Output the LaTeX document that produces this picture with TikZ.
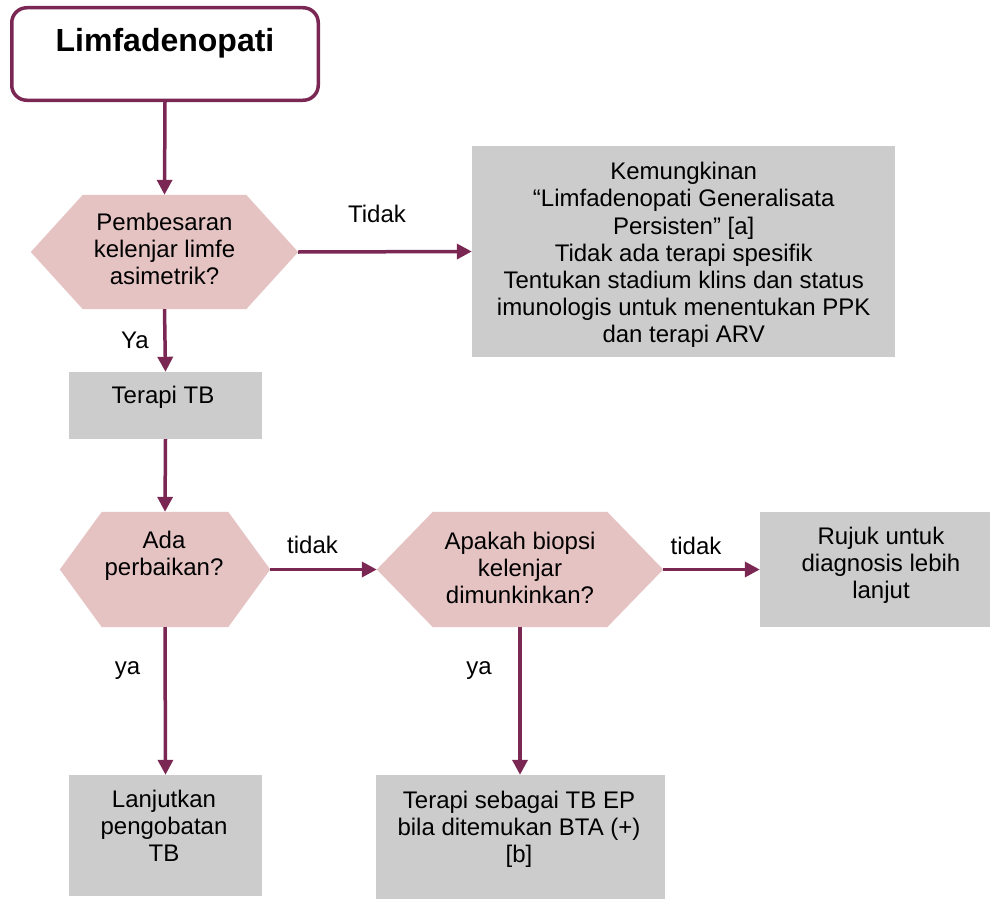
\documentclass[tikz,border=0pt]{standalone}
\usepackage{fontspec}
\setmainfont{Liberation Sans}
\usetikzlibrary{arrows.meta}
\definecolor{wine}{HTML}{7B2753}
\definecolor{rosefill}{HTML}{E6C3C3}
\definecolor{boxgrey}{HTML}{CCCCCC}
\tikzset{
  txt/.style={font=\fontsize{24}{27.2}\selectfont, align=center, inner sep=0pt},
  flow/.style={draw=wine, line width=3.5pt, -{Triangle[width=15pt,length=15pt]}},
  greybox/.style={fill=boxgrey, draw=none, inner sep=0pt},
  frame/.style={inner sep=0pt, draw=none},
  hexfill/.style={fill=rosefill, draw=none}
}
\begin{document}
\begin{tikzpicture}[x=1pt,y=-1pt]
\useasboundingbox (0,0) rectangle (990,899);

% start box
\node[draw=wine, line width=3.5pt, rounded corners=15pt, minimum width=306.5pt,
      minimum height=92.5pt, inner sep=0pt] (start) at (165,54) {};
\node[font=\bfseries\fontsize{32}{38}\selectfont, anchor=base, inner sep=0pt]
      (title) at (165,52) {Limfadenopati};

% decision frames
\node[frame, minimum width=267pt, minimum height=114pt] (q1) at (164.5,252) {};
\node[frame, minimum width=210pt, minimum height=115pt] (q2) at (165,569.5) {};
\node[frame, minimum width=286pt, minimum height=115pt] (q3) at (520,569.5) {};

\fill[hexfill] (q1.west) -- ([xshift=52pt]q1.north west) -- ([xshift=-52pt]q1.north east)
  -- (q1.east) -- ([xshift=-52pt]q1.south east) -- ([xshift=52pt]q1.south west) -- cycle;
\fill[hexfill] (q2.west) -- ([xshift=42pt]q2.north west) -- ([xshift=-42pt]q2.north east)
  -- (q2.east) -- ([xshift=-42pt]q2.south east) -- ([xshift=42pt]q2.south west) -- cycle;
\fill[hexfill] (q3.west) -- ([xshift=56pt]q3.north west) -- ([xshift=-56pt]q3.north east)
  -- (q3.east) -- ([xshift=-56pt]q3.south east) -- ([xshift=56pt]q3.south west) -- cycle;

% action boxes
\node[greybox, minimum width=423pt, minimum height=211pt] (pgl) at (683.5,251.5) {};
\node[greybox, minimum width=193pt, minimum height=67pt] (tb) at (165.5,405.5) {};
\node[greybox, minimum width=242pt, minimum height=115pt] (rujuk) at (881,569.5) {};
\node[greybox, minimum width=193pt, minimum height=121pt] (lanjut) at (165.5,835.5) {};
\node[greybox, minimum width=289pt, minimum height=124pt] (ep) at (520.5,837) {};

% texts
\node[txt] (t1) at (164.5,249) {Pembesaran\\kelenjar limfe\\asimetrik?};
\node[txt] (t2) at (683.7,255) {Kemungkinan\\“Limfadenopati Generalisata\\Persisten” [a]\\Tidak ada terapi spesifik\\Tentukan stadium klins dan status\\imunologis untuk menentukan PPK\\dan terapi ARV};
\node[txt] (t3) at (163,397) {Terapi TB};
\node[txt] (t4) at (164,556) {Ada\\perbaikan?};
\node[txt] (t5) at (520,568) {Apakah biopsi\\kelenjar\\dimunkinkan?};
\node[txt] (t6) at (881,565) {Rujuk untuk\\diagnosis lebih\\lanjut};
\node[txt] (t7) at (164,826) {Lanjutkan\\pengobatan\\TB};
\node[txt] (t8) at (519,829) {Terapi sebagai TB EP\\bila ditemukan BTA (+)\\{[b]}};

% connectors
\draw[flow] (start.south) -- (q1.north);
\draw[flow] (q1.east) -- (pgl.west);
\draw[flow] (q1.south) -- (tb.north);
\draw[flow] (tb.south) -- (q2.north);
\draw[flow] (q2.east) -- (q3.west);
\draw[flow] (q3.east) -- (rujuk.west);
\draw[flow] (q2.south) -- (lanjut.north);
\draw[flow] (q3.south) -- (ep.north -| q3.south);

% connector labels
\node[txt] (l1) at (377,214) {Tidak};
\node[txt] (l2) at (135,340) {Ya};
\node[txt] (l3) at (312.5,545) {tidak};
\node[txt] (l4) at (696,545.5) {tidak};
\node[txt] (l5) at (127.5,671) {ya};
\node[txt] (l6) at (479,671) {ya};
\end{tikzpicture}
\end{document}
